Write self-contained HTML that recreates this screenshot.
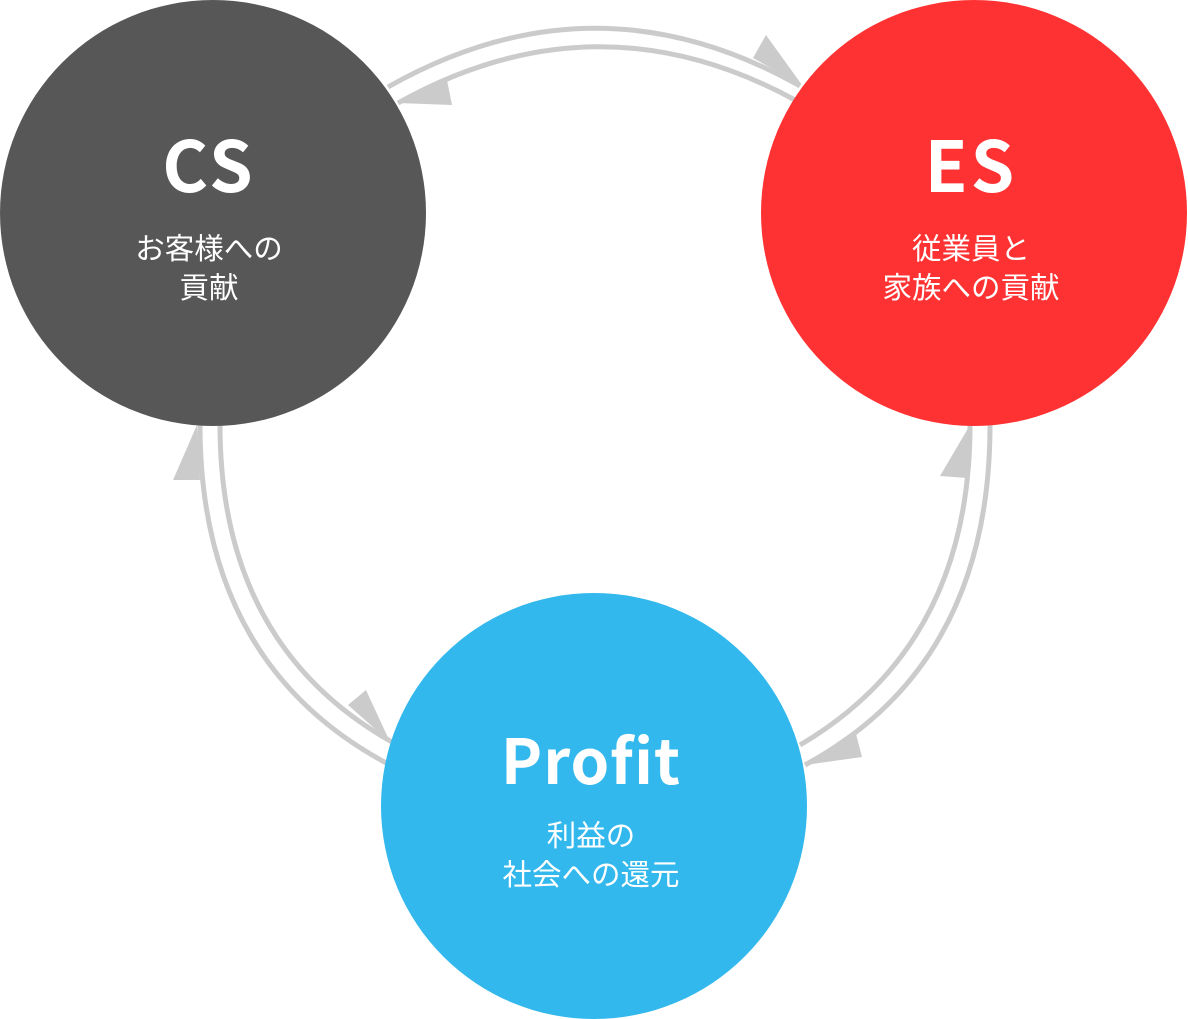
<!DOCTYPE html>
<html><head><meta charset="utf-8"><style>
html,body{margin:0;padding:0;background:#fff;width:1188px;height:1019px;overflow:hidden}
.c{position:absolute;width:426px;height:426px;border-radius:50%;color:#fff;text-align:center;font-family:"Liberation Sans","Noto Sans CJK JP",sans-serif}
.t{position:absolute;left:0;right:0;font-family:"Noto Sans CJK JP","Liberation Sans",sans-serif;font-weight:700;font-size:70px;line-height:1;letter-spacing:3px}
.s{position:absolute;left:0;right:0;font-family:"Noto Sans CJK JP",sans-serif;font-size:29.5px;line-height:39px}
</style></head><body>
<svg width="1188" height="1019" style="position:absolute;left:0;top:0">
<g fill="none" stroke="#cbcbcb" stroke-width="5">
<path d="M388,87 Q595,-30 800,86"/>
<path d="M398,103 Q597,-8 795,100"/>
<path d="M200,425 Q200,665 390,765"/>
<path d="M220,425 Q220,645 392,742"/>
<path d="M990,425 Q990,665 805,765"/>
<path d="M970,425 Q970,645 800,745"/>
</g>
<g fill="#cbcbcb">
<polygon points="802,85 766,35 753,58"/>
<polygon points="398,103 452,105 447,80"/>
<polygon points="197,425 173,480 200,480"/>
<polygon points="390,742 348,705 366,690"/>
<polygon points="805,765 862,757 855,730"/>
<polygon points="970,425 940,476 967,478"/>
</g>
</svg>
<div class="c" style="left:0;top:0;background:#575757"><div class="t" style="top:128px;left:-8px">CS</div><div class="s" style="top:228px;left:-8px">お客様への<br>貢献</div></div>
<div class="c" style="left:761px;top:0;background:#ff3233"><div class="t" style="top:128px;left:-6px">ES</div><div class="s" style="top:228px;left:-6px">従業員と<br>家族への貢献</div></div>
<div class="c" style="left:381px;top:593px;background:#32b8ec"><div class="t" style="top:133px;left:-6px;font-size:62px;letter-spacing:1px">Profit</div><div class="s" style="top:222px;left:-6px">利益の<br>社会への還元</div></div>
</body></html>
